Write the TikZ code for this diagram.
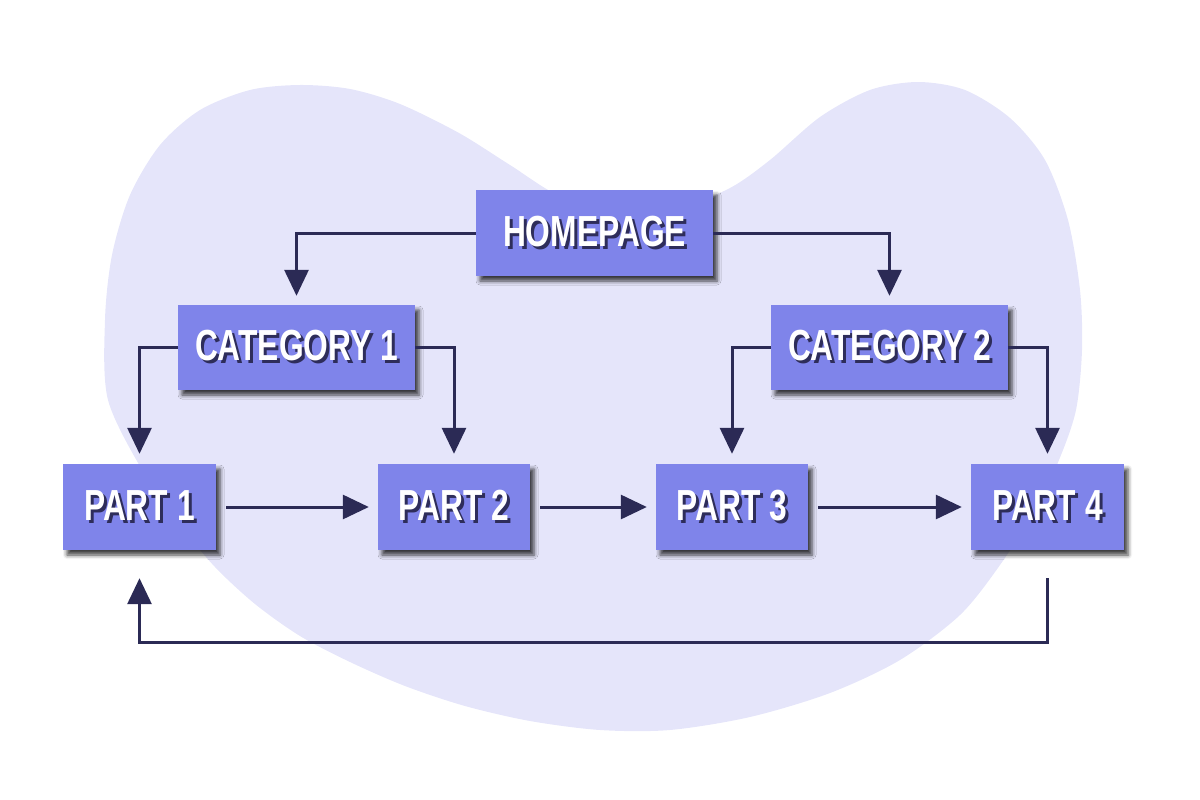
\documentclass[tikz,border=0pt]{standalone}
\usepackage{fontspec}
\newfontfamily\boxfont{Liberation Sans}[FakeStretch=0.73]
\usetikzlibrary{arrows.meta,shadows.blur}
\definecolor{blobc}{HTML}{E5E5FA}
\definecolor{boxc}{HTML}{7F84EA}
\definecolor{linec}{HTML}{2B2A55}
\definecolor{txtsh}{HTML}{2E2D5A}
\newcommand\shadowtext[1]{\rlap{\kern3pt\raisebox{-3pt}{\textcolor{txtsh}{#1}}}\textcolor{white}{#1}}
\begin{document}
\begin{tikzpicture}[x=1pt,y=-1pt,
  pbox/.style={fill=boxc, inner sep=0pt, minimum height=86pt,
    font=\boxfont\bfseries\fontsize{43.5}{50}\selectfont,
    blur shadow={shadow xshift=4pt,shadow yshift=-5pt,shadow blur radius=4pt,shadow opacity=75}},
  arr/.style={draw=linec, line width=3pt, -{Triangle[width=24pt,length=26pt]}}]
\useasboundingbox (0,0) rectangle (1200,800);
\fill[blobc] plot[smooth cycle, tension=0.5] coordinates {
  (108,400) (105,320) (112,255) (130,195) (160,145) (200,110) (250,90) (300,85)
  (350,89) (400,104) (459,133) (510,165) (560,196) (620,210) (680,207) (730,188)
  (770,160) (820,117) (870,90) (918,82) (965,90) (1010,118) (1045,160) (1068,220)
  (1080,290) (1082,350) (1076,410) (1059,460) (1035,510) (1000,565) (960,615)
  (900,660) (830,693) (750,717) (670,730) (600,730) (530,721) (465,706) (405,686)
  (350,662) (300,636) (255,604) (215,567) (180,525) (145,475)};
\node[pbox, minimum width=237pt] (home) at (594.5,233) {\shadowtext{HOMEPAGE}};
\node[pbox, minimum width=237pt, minimum height=85pt] (cat1) at (296.5,347.5) {\shadowtext{CATEGORY 1}};
\node[pbox, minimum width=237pt, minimum height=85pt] (cat2) at (889.5,347.5) {\shadowtext{CATEGORY 2}};
\node[pbox, minimum width=153pt] (p1) at (139.5,507) {\shadowtext{PART 1}};
\node[pbox, minimum width=152pt] (p2) at (454,507) {\shadowtext{PART 2}};
\node[pbox, minimum width=152pt] (p3) at (732,507) {\shadowtext{PART 3}};
\node[pbox, minimum width=153pt] (p4) at (1047.5,507) {\shadowtext{PART 4}};
\draw[arr, shorten >=9pt] (home.west) -| (cat1.north);
\draw[arr, shorten >=9pt] (home.east) -| (cat2.north);
\draw[arr, shorten >=10pt] (cat1.west) -| (p1.north);
\draw[arr, shorten >=10pt] (cat1.east) -| (p2.north);
\draw[arr, shorten >=10pt] (cat2.west) -| (p3.north);
\draw[arr, shorten >=10pt] (cat2.east) -| (p4.north);
\draw[arr, shorten <=10pt, shorten >=9pt] (p1.east) -- (p2.west);
\draw[arr, shorten <=10pt, shorten >=9pt] (p2.east) -- (p3.west);
\draw[arr, shorten <=10pt, shorten >=9pt] (p3.east) -- (p4.west);
\draw[arr, shorten <=28pt, shorten >=28pt] (p4.south) -- ++(0,92) -| (p1.south);
\end{tikzpicture}
\end{document}
